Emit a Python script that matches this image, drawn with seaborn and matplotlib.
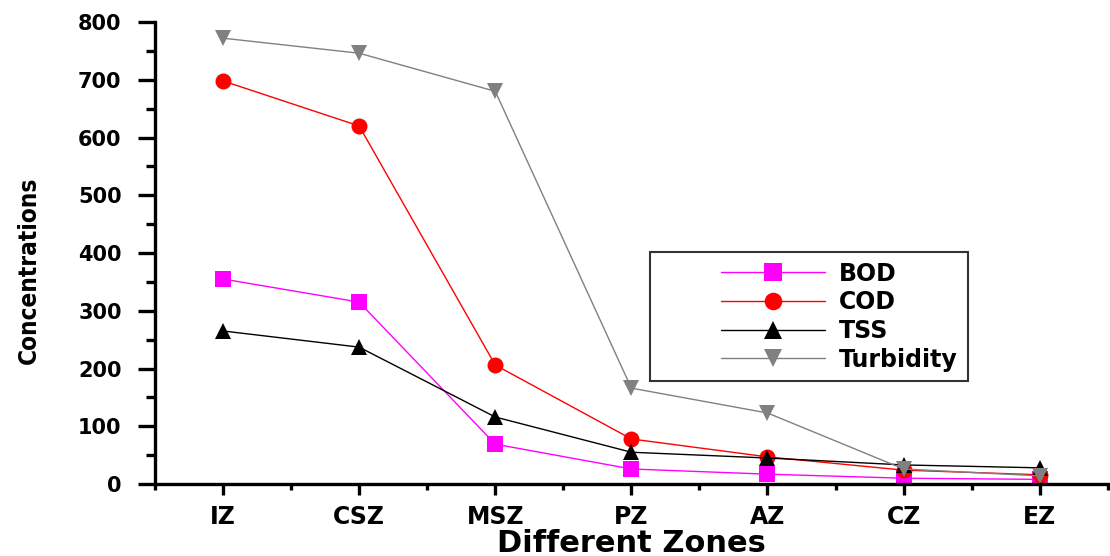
import matplotlib
matplotlib.use("Agg")
import matplotlib.pyplot as plt
from matplotlib.ticker import MultipleLocator
from matplotlib.lines import Line2D
from matplotlib.legend_handler import HandlerLine2D
import seaborn as sns
import pandas as pd

zones = ["IZ", "CSZ", "MSZ", "PZ", "AZ", "CZ", "EZ"]
bod = [355, 315, 69, 26, 17, 10, 8]
cod = [698, 620, 206, 78, 47, 24, 16]
tss = [265, 237, 116, 55, 45, 33, 28]
turbidity = [772, 746, 680, 166, 123, 26, 14]

series = {"BOD": bod, "COD": cod, "TSS": tss, "Turbidity": turbidity}
rows = []
for name, vals in series.items():
    for i, v in enumerate(vals):
        rows.append({"pos": i, "param": name, "value": v})
df = pd.DataFrame(rows)

sns.set_style("ticks")
plt.rcParams["font.family"] = ["DejaVu Sans"]
plt.rcParams["text.color"] = "black"
plt.rcParams["axes.labelcolor"] = "black"
plt.rcParams["xtick.color"] = "black"
plt.rcParams["ytick.color"] = "black"
plt.rcParams["axes.edgecolor"] = "black"

palette = {"BOD": "#ff00ff", "COD": "#ff0000", "TSS": "#000000", "Turbidity": "#808080"}
markers = {"BOD": "s", "COD": "o", "TSS": "^", "Turbidity": "v"}

fig = plt.figure(figsize=(11.1, 5.56), dpi=100)
ax = fig.add_axes([0.1396, 0.1295, 0.8584, 0.8309])

sns.lineplot(data=df, x="pos", y="value", hue="param", style="param",
             palette=palette, markers=markers, dashes=False, lw=1,
             markersize=11.5, markeredgewidth=0, ax=ax)

ax.set_xlim(-0.5, 6.5)
ax.set_ylim(0, 800)
ax.set_xticks(range(len(zones)))
ax.set_xticklabels(zones)
ax.set_xticks([i + 0.5 for i in range(-1, 7)], minor=True)
ax.yaxis.set_major_locator(MultipleLocator(100))
ax.yaxis.set_minor_locator(MultipleLocator(50))

sns.despine(ax=ax)
for s in ["left", "bottom"]:
    ax.spines[s].set_linewidth(2.4)
ax.tick_params(axis="y", which="major", length=12, width=2.4, labelsize=15, pad=12)
ax.tick_params(axis="y", which="minor", length=6.5, width=2.4)
ax.tick_params(axis="x", which="major", length=8, width=2.4, labelsize=17, pad=7)
ax.tick_params(axis="x", which="minor", length=4.5, width=2.4)
for lab in ax.get_xticklabels() + ax.get_yticklabels():
    lab.set_fontweight("bold")

ax.set_xlabel("Different Zones", fontsize=22, fontweight="bold", labelpad=0)
ax.set_ylabel("Concentrations", fontsize=17.5, fontweight="bold",
              fontstretch="condensed")
ax.yaxis.set_label_coords(-0.12, 0.463)

leg = ax.legend(loc="upper left", bbox_to_anchor=(0.52, 0.502), frameon=True,
                fancybox=False, edgecolor="black", handlelength=7.0,
                prop={"weight": "bold", "size": 17}, labelspacing=0.2,
                borderpad=0.4, handletextpad=0.6, borderaxespad=0,
                markerscale=1.1,
                handler_map={Line2D: HandlerLine2D(xpad=2.6)})
leg.get_frame().set_linewidth(1.5)
for h in leg.legend_handles:
    h.set_linewidth(1)

fig.savefig("out.png", dpi=100)
